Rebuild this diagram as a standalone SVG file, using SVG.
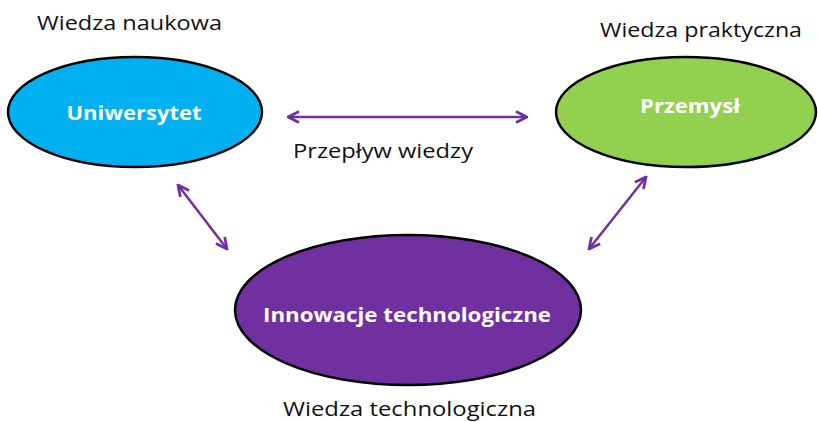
<svg xmlns="http://www.w3.org/2000/svg" width="818" height="422" viewBox="0 0 818 422">
<style>
.node{stroke:#000;stroke-width:2.5}
.lbl{font-family:"Open Sans","Liberation Sans",sans-serif;font-size:20px;fill:#111}
.nl{font-family:"Open Sans","Liberation Sans",sans-serif;font-weight:bold;font-size:20px;fill:#fff;text-anchor:middle}
.conn{stroke:#7030A0;stroke-width:2.5;fill:none;marker-start:url(#ah);marker-end:url(#ah)}
</style>
<defs>
<marker id="ah" viewBox="0 0 10 10" refX="9" refY="5" markerWidth="5.5" markerHeight="5.5" orient="auto-start-reverse" markerUnits="strokeWidth">
<polyline points="1,1 9,5 1,9" fill="none" stroke="#7030A0" stroke-width="2" stroke-linejoin="miter"/>
</marker>
</defs>
<rect width="818" height="422" fill="#fff"/>
<g id="connectors">
<line class="conn" x1="288" y1="117" x2="527" y2="117"/>
<line class="conn" x1="178" y1="185" x2="227" y2="249"/>
<line class="conn" x1="646" y1="177" x2="589" y2="249"/>
</g>
<g id="uniwersytet">
<ellipse class="node" cx="135" cy="112" rx="127" ry="55" fill="#00B0F0"/>
<text class="nl" x="134" y="120" textLength="135" lengthAdjust="spacingAndGlyphs">Uniwersytet</text>
</g>
<g id="przemysl">
<ellipse class="node" cx="686" cy="112" rx="130" ry="55" fill="#92D050"/>
<text class="nl" x="690" y="113" textLength="100" lengthAdjust="spacingAndGlyphs">Przemysł</text>
</g>
<g id="innowacje">
<ellipse class="node" cx="408" cy="310" rx="173" ry="75" fill="#7030A0"/>
<text class="nl" x="407" y="322" textLength="288" lengthAdjust="spacingAndGlyphs">Innowacje technologiczne</text>
</g>
<text class="lbl" x="37" y="30" textLength="185" lengthAdjust="spacingAndGlyphs">Wiedza naukowa</text>
<text class="lbl" x="600" y="37" textLength="202" lengthAdjust="spacingAndGlyphs">Wiedza praktyczna</text>
<text class="lbl" x="293" y="158" textLength="180" lengthAdjust="spacingAndGlyphs">Przepływ wiedzy</text>
<text class="lbl" x="283" y="416" textLength="253" lengthAdjust="spacingAndGlyphs">Wiedza technologiczna</text>
</svg>
